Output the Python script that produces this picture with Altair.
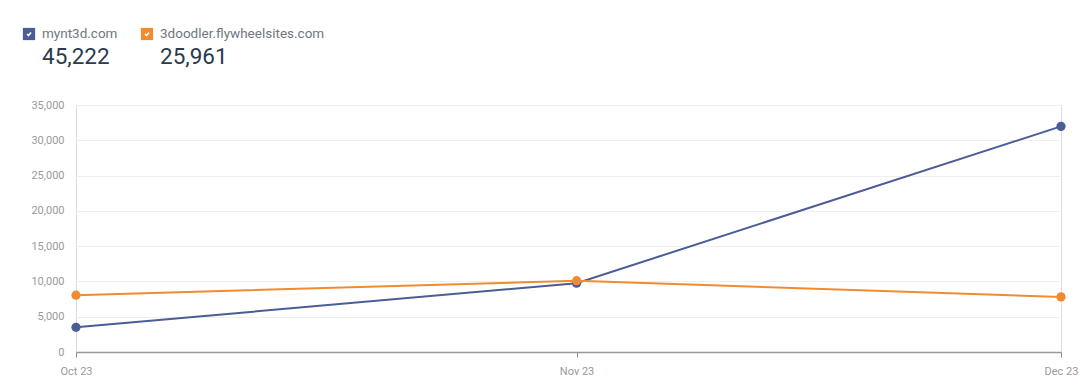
import altair as alt
import pandas as pd

months = ["2023-10-01", "2023-11-01", "2023-12-01"]
sites = ["mynt3d.com", "3doodler.flywheelsites.com"]
mynt3d = [3500, 9750, 31972]
doodler = [8050, 10100, 7811]
totals = ["45,222", "25,961"]
colors = ["#4a5d97", "#f28b30"]

rows = []
for m, v in zip(months, mynt3d):
    rows.append({"month": m, "site": sites[0], "value": v})
for m, v in zip(months, doodler):
    rows.append({"month": m, "site": sites[1], "value": v})
df = pd.DataFrame(rows)

hdr = pd.DataFrame({"site": sites, "total": totals, "bx": [-47, 71], "tx": [-34, 84]})

color = alt.Color("site:N", scale=alt.Scale(domain=sites, range=colors), legend=None)

tick_vals = [alt.DateTime(year=2023, month=m, date=1, utc=True) for m in (10, 11, 12)]

base = alt.Chart(df).encode(
    x=alt.X("month:T", scale=alt.Scale(type="utc", nice=False),
            axis=alt.Axis(title=None, labelAngle=0, labelColor="#9a9a9a", labelFontSize=11,
                          labelFont="Roboto", labelPadding=8, tickSize=5, tickColor="#888",
                          domainColor="#999", domainWidth=1.5, grid=False, labelFlush=False,
                          values=tick_vals, format="%b %y")),
    y=alt.Y("value:Q", scale=alt.Scale(domain=[0, 35000], nice=False),
            axis=alt.Axis(title=None, values=[0, 5000, 10000, 15000, 20000, 25000, 30000, 35000],
                          format=",.0f", labelColor="#9a9a9a", labelFontSize=11, labelFont="Roboto",
                          domain=False, ticks=False, labelPadding=12, gridColor="#efefef")),
    color=color,
)

lines = base.mark_line(strokeWidth=2)
points = base.mark_point(filled=True, size=85, opacity=1)

hbase = alt.Chart(hdr)
boxes = hbase.mark_square(size=150, opacity=1, cornerRadius=2).encode(
    x=alt.X("bx:Q", scale=None), y=alt.value(-71),
    color=alt.Color("site:N", scale=alt.Scale(domain=sites, range=colors), legend=None))
checks = hbase.mark_point(shape="M-0.6,0 L-0.15,0.45 L0.6,-0.45", filled=False, stroke="white",
                          strokeWidth=1.6, size=45, opacity=1).encode(
    x=alt.X("bx:Q", scale=None), y=alt.value(-71))
names = hbase.mark_text(align="left", baseline="middle", fontSize=13.5, font="Roboto", color="#6f7680").encode(
    x=alt.X("tx:Q", scale=None), y=alt.value(-71), text="site:N")
nums = hbase.mark_text(align="left", baseline="middle", fontSize=22.5, font="Roboto", color="#2b3a4e").encode(
    x=alt.X("tx:Q", scale=None), y=alt.value(-48), text="total:N")

chart = alt.layer(lines, points, boxes, checks, names, nums).properties(
    width=985, height=247,
    autosize=alt.AutoSizeParams(type="none"),
    padding={"left": 76, "top": 105, "right": 19, "bottom": 37},
).configure_view(stroke=None).configure(background="white")

chart.save("out.html", embed_options={"renderer": "svg", "actions": False})
